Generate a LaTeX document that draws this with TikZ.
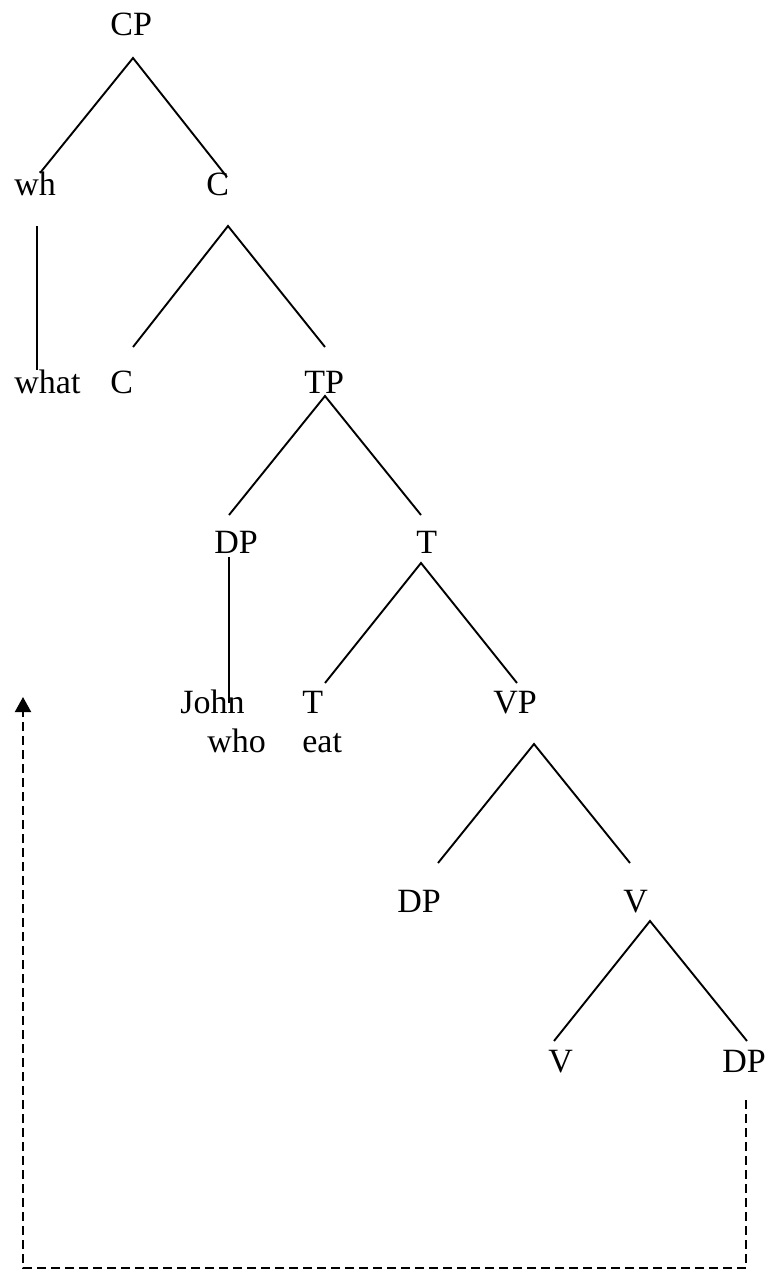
\documentclass[tikz,border=0pt]{standalone}
\usepackage{fontspec}
\setmainfont{Liberation Serif}
\usetikzlibrary{arrows.meta}
\begin{document}
\begin{tikzpicture}[x=0.5pt,y=-0.5pt,
  lbl/.style={anchor=base west,inner sep=0pt,font=\fontsize{17}{19}\selectfont},
  edge/.style={line width=0.95pt},
  move/.style={line width=1pt,dash pattern=on 4.5pt off 2.5pt}]
\useasboundingbox (0,0) rectangle (771,1270);
% labels
\node[lbl] (cp) at (110,35) {CP};
\node[lbl] (wh) at (14,195) {wh};
\node[lbl] (cbar1) at (206,195) {C};
\node[lbl] (what) at (14,393) {what};
\node[lbl] (c) at (110,393) {C};
\node[lbl] (tp) at (304,393) {TP};
\node[lbl] (dp1) at (214,553) {DP};
\node[lbl] (tbar) at (416,553) {T};
\node[lbl] (john) at (180,713) {John};
\node[lbl] (t) at (302,713) {T};
\node[lbl] (vp) at (493,713) {VP};
\node[lbl] (who) at (207,752) {who};
\node[lbl] (eat) at (302,752) {eat};
\node[lbl] (dp2) at (397,912) {DP};
\node[lbl] (vbar) at (623,912) {V};
\node[lbl] (v) at (548,1072) {V};
\node[lbl] (dp3) at (722,1072) {DP};
% branch points
\coordinate (cpA) at (133,58);
\coordinate (cpL) at (40,173);
\coordinate (cpR) at (227,177);
\coordinate (whT) at (37,226);
\coordinate (whB) at (37,370);
\coordinate (cA) at (228,226);
\coordinate (cL) at (133,347);
\coordinate (cR) at (325,347);
\coordinate (tpA) at (325,396);
\coordinate (tpL) at (229,515);
\coordinate (tpR) at (421,515);
\coordinate (dpT) at (229,557);
\coordinate (dpB) at (229,703);
\coordinate (tA) at (421,563);
\coordinate (tL) at (325,683);
\coordinate (tR) at (517,683);
\coordinate (vpA) at (534,744);
\coordinate (vpL) at (438,863);
\coordinate (vpR) at (630,863);
\coordinate (vA) at (650,921);
\coordinate (vL) at (554,1041);
\coordinate (vR) at (747,1041);
\coordinate (mvS) at (746,1100);
\coordinate (mvC1) at (746,1268);
\coordinate (mvC2) at (23,1268);
\coordinate (mvE) at (23,697);
% branches
\draw[edge] (cpL) -- (cpA) -- (cpR);
\draw[edge] (whT) -- (whB);
\draw[edge] (cL) -- (cA) -- (cR);
\draw[edge] (tpL) -- (tpA) -- (tpR);
\draw[edge] (dpT) -- (dpB);
\draw[edge] (tL) -- (tA) -- (tR);
\draw[edge] (vpL) -- (vpA) -- (vpR);
\draw[edge] (vL) -- (vA) -- (vR);
% movement
\draw[move,-{Triangle[width=8pt,length=7.5pt]}] (mvS) -- (mvC1) -- (mvC2) -- (mvE);
\end{tikzpicture}
\end{document}
